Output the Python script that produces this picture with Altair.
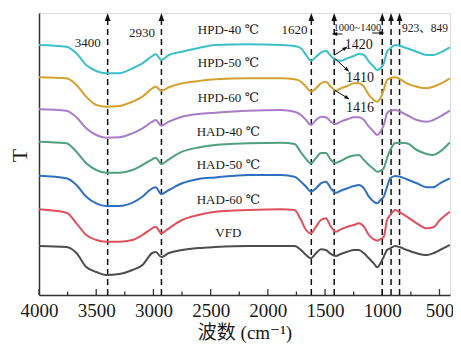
import altair as alt
import pandas as pd

# ---------------- data ----------------
wavenumber = [4000, 3760, 3673, 3587, 3500, 3413, 3298, 3183, 3096, 3010, 2980, 2931, 2865, 2749, 2605, 2460, 2172, 1883, 1767,
              1710, 1666, 1623, 1579, 1536, 1493, 1449, 1406, 1363, 1305, 1247, 1204, 1160, 1117, 1074, 1045, 1016, 987, 958,
              930, 886, 843, 785, 698, 612, 554, 496, 410]

hpd40 = [250, 248.3, 241.7, 230, 224, 221.7, 221.7, 226.7, 231.7, 239, 240.7, 235, 240, 243.3, 247, 250, 250.7, 250, 249,
         246.7, 240, 234.3, 238.3, 242.3, 244.3, 239, 235, 234.3, 236.7, 239, 241, 240, 233.3, 228.3, 225, 226.7, 231.7,
         243.3, 246.7, 250, 249, 246.7, 243.3, 240, 240, 242.3, 247.7]
hpd50 = [217.7, 216.7, 210, 198.3, 190, 188.3, 189, 193.3, 198.3, 206.7, 208.3, 204.3, 207.7, 211.7, 214, 215.7, 216.7, 216.7, 215.7,
         213.3, 208.3, 203.3, 206.7, 211.7, 213.3, 208.3, 204.3, 206.7, 209, 211.7, 211.7, 208.3, 200, 195, 193.3, 196.7, 205,
         215, 216.7, 217.7, 215.7, 211.7, 208.3, 206.7, 208.3, 211, 216.7]
hpd60 = [185.7, 184.3, 177.7, 166.7, 160, 157.3, 157.7, 161.7, 166.7, 173.3, 175, 169.3, 173.3, 178.3, 181, 182.3, 184.3, 185, 183.3,
         180, 175, 170, 175, 178.3, 177.7, 173.3, 171, 173.3, 175.7, 177.7, 177.7, 175, 168.3, 163.3, 160, 163.3, 170,
         181.7, 184.3, 185, 183.3, 180, 175, 173.3, 175, 178.3, 184.3]
had40 = [153.3, 151.7, 143.3, 131.7, 125, 122.3, 122.3, 125, 130, 135.7, 137.3, 131, 135.7, 143.3, 147.5, 150, 151.7, 152.3, 151,
         142.5, 136, 131.7, 137, 142, 142, 135, 132, 134, 137.5, 139.5, 140, 135, 130, 126, 123.3, 124, 126.7,
         137, 145, 152, 152.3, 151.7, 145, 141, 140, 143.3, 152.5]
had50 = [119.3, 116.7, 110, 98.3, 91.7, 89, 89, 92.3, 98.3, 106.7, 107.7, 101, 105, 111.7, 116, 117.5, 120, 120, 118.3,
         113.3, 108.3, 103.3, 106.7, 111.7, 113.3, 106.7, 102.3, 104.3, 106.7, 109, 110, 106.7, 98.3, 93.3, 91.7, 95, 98.3,
         108.3, 116.7, 119, 118.3, 115.7, 111.7, 107.7, 107.7, 111.7, 116.7]
had60 = [85.7, 82.3, 71.7, 60, 55, 53.3, 53.3, 55, 60, 66.7, 68.3, 61.7, 66.7, 75, 80, 83.3, 85, 85.7, 85,
         75, 65, 61.7, 68.3, 75, 76.7, 68.3, 63.3, 65.7, 68.3, 70, 71.7, 68.3, 60, 55.7, 54.3, 55.7, 58.3,
         75, 80, 85, 82.3, 78.3, 71.7, 66.7, 67.7, 75, 83.3]
vfd = [49, 48, 42, 28, 23, 20, 21, 25, 30, 42, 43, 38, 42, 45, 47, 48, 49, 49, 49,
       45, 40, 36.7, 41.7, 45.7, 45, 41, 39, 41, 43.3, 45, 45, 41.7, 36.7, 31.7, 27.7, 31.7, 38.3,
       45, 46.7, 49, 47.7, 45, 41.7, 40, 41.7, 45, 50]

series_names = ["HPD-40 ℃", "HPD-50 ℃", "HPD-60 ℃", "HAD-40 ℃", "HAD-50 ℃", "HAD-60 ℃", "VFD"]
series_values = [hpd40, hpd50, hpd60, had40, had50, had60, vfd]
series_colors = ["#3dbfc8", "#d4a12e", "#a87cc6", "#4fa07c", "#2f6fc2", "#e0505c", "#4d4d4d"]
label_T = [265, 232, 197, 163, 130, 95, 62]
label_wn = 2345

marker_wn = [3400, 2930, 1620, 1420, 1000, 923, 849]
major_ticks = [500, 1000, 1500, 2000, 2500, 3000, 3500, 4000]
minor_ticks = [750, 1250, 1750, 2250, 2750, 3250, 3750]

note_text = ["3400", "2930", "1620", "1000~1400", "923、849", "1420", "1410", "1416"]
note_wn = [3575, 3099, 1767, 1218, 627, 1205, 1195, 1195]
note_T = [252, 262, 265, 267, 266, 250, 217, 187]
note_size = [13, 13, 13, 10.5, 11.5, 14, 14, 14]

# small arrows: start (wn, T) -> end (wn2, T2), head angle
arrow_wn = [1418, 1418, 1418, 1348, 1088]
arrow_T = [240, 237, 205, 261, 262]
arrow_wn2 = [1322, 1305, 1305, 1418, 1002]
arrow_T2 = [247, 225, 197, 261, 262]
arrow_angle = [57, 133, 122, 270, 90]

# ---------------- tables ----------------
rows = []
for name, vals in zip(series_names, series_values):
    for w, t in zip(wavenumber, vals):
        rows.append({"wn": w, "T": t, "series": name})
curves = pd.DataFrame(rows)

markers = pd.DataFrame({"wn": marker_wn, "T": [0] * len(marker_wn), "T2": [276] * len(marker_wn),
                        "Thead": [278] * len(marker_wn)})
ticks_major = pd.DataFrame({"wn": major_ticks, "T": [0] * len(major_ticks), "T2": [6] * len(major_ticks)})
ticks_minor = pd.DataFrame({"wn": minor_ticks, "T": [0] * len(minor_ticks), "T2": [3.5] * len(minor_ticks)})
labels = pd.DataFrame({"wn": [label_wn] * len(series_names), "T": label_T, "text": series_names})
notes = pd.DataFrame({"wn": note_wn, "T": note_T, "text": note_text, "fs": note_size})
arrows = pd.DataFrame({"wn": arrow_wn, "T": arrow_T, "wn2": arrow_wn2, "T2": arrow_T2, "ang": arrow_angle})

SERIF = "Liberation Serif, DejaVu Serif, Noto Sans CJK SC"
INK = "#1a1a1a"

xscale = alt.Scale(domain=[408, 4000], reverse=True, nice=False, zero=False)
yscale = alt.Scale(domain=[0, 282], nice=False, zero=False)

xaxis = alt.Axis(values=major_ticks, format="d", ticks=False, grid=False, labelFont=SERIF, labelFontSize=19,
                 labelColor=INK, labelPadding=6, labelOverlap=False, labelFlush=False, domainColor="#333333",
                 domainWidth=1.5, title="波数 (cm⁻¹)", titleFont=SERIF, titleFontSize=19, titleFontWeight="normal",
                 titleColor=INK, titleBaseline="middle", titleY=37)
yaxis = alt.Axis(labels=False, ticks=False, grid=False, domainColor="#333333", domainWidth=1.5, title="T",
                 titleFont=SERIF, titleFontSize=22, titleFontWeight="normal", titleColor=INK, titleAngle=270,
                 titleAlign="center", titleBaseline="middle", titleX=-20, titleY=142)


def X(field="wn"):
    return alt.X(f"{field}:Q", scale=xscale, axis=xaxis, title="波数 (cm⁻¹)")


def Y(field="T"):
    return alt.Y(f"{field}:Q", scale=yscale, axis=yaxis, title="T")


lines = alt.Chart(curves).mark_line(strokeWidth=2, interpolate="monotone").encode(
    x=X(), y=Y(),
    color=alt.Color("series:N", scale=alt.Scale(domain=series_names, range=series_colors), legend=None),
    detail="series:N",
)

dashed = alt.Chart(markers).mark_rule(strokeDash=[6, 4], strokeWidth=1.5, color="#111111").encode(
    x=X(), y=Y(), y2="T2:Q")

heads = alt.Chart(markers).mark_point(shape="M0,-1L0.7,1L-0.7,1Z", filled=True, size=64, color="#111111",
                                      opacity=1).encode(x=X(), y=alt.Y("Thead:Q", scale=yscale, axis=yaxis, title="T"))

tmaj = alt.Chart(ticks_major).mark_rule(strokeWidth=1.3, color="#333333").encode(x=X(), y=Y(), y2="T2:Q")
tmin = alt.Chart(ticks_minor).mark_rule(strokeWidth=1.3, color="#333333").encode(x=X(), y=Y(), y2="T2:Q")

series_text = alt.Chart(labels).mark_text(font=SERIF, fontSize=13, color=INK).encode(
    x=X(), y=Y(), text="text:N")

note_marks = alt.Chart(notes).mark_text(font=SERIF, color=INK).encode(
    x=X(), y=Y(), text="text:N", size=alt.Size("fs:Q", scale=None, legend=None))

arrow_lines = alt.Chart(arrows).mark_rule(strokeWidth=1, color="#111111").encode(
    x=X(), y=Y(), x2="wn2:Q", y2="T2:Q")
arrow_heads = alt.Chart(arrows).mark_point(shape="M0,-1L0.7,1L-0.7,1Z", filled=True, size=30, color="#111111",
                                           opacity=1).encode(
    x=alt.X("wn2:Q", scale=xscale, axis=xaxis, title="波数 (cm⁻¹)"),
    y=alt.Y("T2:Q", scale=yscale, axis=yaxis, title="T"),
    angle=alt.Angle("ang:Q", scale=None))

chart = alt.layer(tmaj, tmin, dashed, heads, lines, series_text, note_marks, arrow_lines, arrow_heads).properties(
    width=411, height=282,
    padding={"left": 31, "top": 5, "right": 3, "bottom": 49},
    autosize=alt.AutoSizeParams(type="none"),
).configure_view(stroke=None).configure(background="white")

chart.save("out.html", embed_options={"renderer": "svg", "actions": False})
